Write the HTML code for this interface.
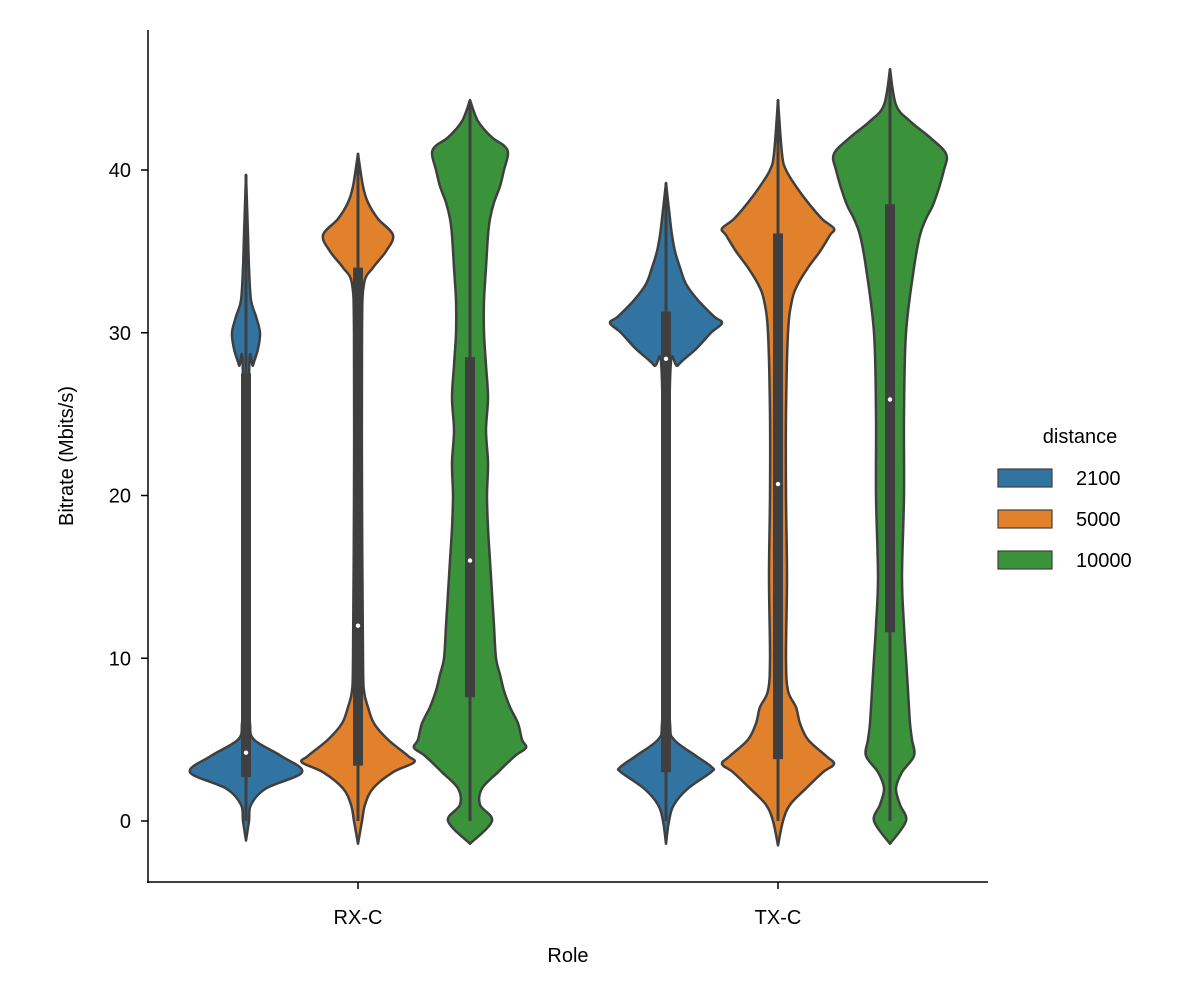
<!DOCTYPE html>
<html><head><meta charset="utf-8">
<style>
body{margin:0;background:#fff;}
svg text{font-family:"Liberation Sans",sans-serif;fill:#000;}
</style></head>
<body>
<svg id="chart" width="1188" height="1000" xmlns="http://www.w3.org/2000/svg">
<g id="plot"></g>
<g id="axes"></g>
<g id="legend"></g>
</svg>
<script>
const roles = ["RX-C", "TX-C"];
const distances = ["2100", "5000", "10000"];
const colors = ["#3274a1", "#e1812c", "#3a923a"];
const yTicks = [0, 10, 20, 30, 40];
// density profiles: [value, relative half-width (0..56)]
const densRX2100 = [[-1.2,0],[0,3],[1,5],[2,20],[3,56],[4,35],[5,8],[6,4],[8,3],[27,3],[28,7],[29,12],[30,14],[31,10],[32,5],[34,3],[36,2],[39.7,0]];
const densRX5000 = [[-1.4,0],[0,4],[1,7],[2,15],[3,35],[3.6,56],[4,50],[5,30],[6,16],[7,10],[8,6],[10,5],[20,4],[30,4],[33,6],[34,15],[35,28],[36,35],[37,20],[38,10],[39,5],[41,0]];
const densRX10000 = [[-1.4,0],[0,22],[1,10],[2,12],[3,28],[4,45],[4.5,56],[5,52],[6,48],[7,40],[8,34],[9,30],[10,26],[12,24],[14,22],[16,20],[18,18],[20,17],[22,18],[24,16],[26,18],[28,16],[30,14],[32,14],[34,16],[36,18],[37,20],[38,24],[39,30],[40,34],[41,38],[41.5,34],[42,22],[43,8],[44.3,0]];
const densTX2100 = [[-1.4,0],[0,3],[1,8],[2,22],[3,45],[3.3,46],[4,30],[5,8],[6,4],[10,3],[27,4],[28,12],[29,30],[30,45],[30.6,56],[31,48],[32,32],[33,20],[34,14],[35,9],[36,6],[37,4],[39.2,0]];
const densTX5000 = [[-1.5,0],[0,5],[1,12],[2,28],[3,45],[3.5,56],[4,48],[5,30],[6,22],[7,18],[8,10],[10,8],[15,9],[20,8],[25,8],[30,10],[32,14],[33,20],[34,30],[35,42],[36,52],[36.4,56],[37,44],[38,30],[39,18],[40,8],[41,4],[44.3,0]];
const densTX10000 = [[-1.4,0],[0,16],[1,10],[2,6],[3,12],[4,24],[5,22],[6,20],[8,18],[10,16],[12,14],[15,12],[20,14],[25,14],[30,16],[34,24],[36,30],[37,36],[38,44],[40,54],[41,56],[42,40],[43,20],[44,6],[46.2,0]];
const dens = [[densRX2100, densRX5000, densRX10000],[densTX2100, densTX5000, densTX10000]];
const q1 = [[2.7, 3.4, 7.6],[3.0, 3.8, 11.6]];
const q3 = [[27.5, 34, 28.5],[31.3, 36.1, 37.9]];
const medians = [[4.2, 12, 16],[28.4, 20.7, 25.9]];
const wlo = [[0, 0, 0],[0, 0, 0]];
const whi = [[39.7, 41, 44.3],[39.2, 44.3, 46.2]];

const NS = "http://www.w3.org/2000/svg";
const y = v => 821 - v * 16.275;
const xCat = i => 358 + i * 420;
const xOff = j => (j - 1) * 112;
function mk(tag, attrs, parent){const e=document.createElementNS(NS,tag);for(const k in attrs)e.setAttribute(k,attrs[k]);parent.appendChild(e);return e;}
function smooth(pts){ // catmull-rom to cubic bezier
  let d = "";
  for(let k=0;k<pts.length-1;k++){
    const p0=pts[Math.max(k-1,0)],p1=pts[k],p2=pts[k+1],p3=pts[Math.min(k+2,pts.length-1)];
    const c1=[p1[0]+(p2[0]-p0[0])/6,p1[1]+(p2[1]-p0[1])/6];
    const c2=[p2[0]-(p3[0]-p1[0])/6,p2[1]-(p3[1]-p1[1])/6];
    d += ` C${c1[0]},${c1[1]} ${c2[0]},${c2[1]} ${p2[0]},${p2[1]}`;
  }
  return d;
}
const plot = document.getElementById("plot");
roles.forEach((r,i)=>{
  distances.forEach((d,j)=>{
    const cx = xCat(i)+xOff(j);
    const pts = dens[i][j];
    const right = pts.map(q=>[cx+q[1],y(q[0])]);
    const left = pts.slice().reverse().map(q=>[cx-q[1],y(q[0])]);
    const path = `M${right[0][0]},${right[0][1]}`+smooth(right)+` L${left[0][0]},${left[0][1]}`+smooth(left)+" Z";
    const v = mk("path",{d:path,fill:colors[j],stroke:"#3f3f3f","stroke-width":2.5,"stroke-linejoin":"round"},plot);
    
    
    const w = mk("line",{x1:cx,x2:cx,y1:y(wlo[i][j]),y2:y(whi[i][j]),stroke:"#3f3f3f","stroke-width":3},plot);
    
    
    const b = mk("rect",{x:cx-5,y:y(q3[i][j]),width:10,height:y(q1[i][j])-y(q3[i][j]),fill:"#3f3f3f"},plot);
    
    
    const m = mk("circle",{cx:cx,cy:y(medians[i][j]),r:2.2,fill:"#fff"},plot);
    
    
  });
});
const axes = document.getElementById("axes");
mk("line",{x1:148,x2:148,y1:30,y2:883,stroke:"#000","stroke-width":1.5},axes);
mk("line",{x1:147,x2:988,y1:882,y2:882,stroke:"#000","stroke-width":1.5},axes);
yTicks.forEach(t=>{
  const tk = mk("line",{x1:141,x2:148,y1:y(t),y2:y(t),stroke:"#000","stroke-width":1.5},axes);
  
  const tl = mk("text",{x:131,y:y(t)+7,"text-anchor":"end","font-size":20},axes);
  tl.textContent = t;
  
  
});
roles.forEach((r,i)=>{
  mk("line",{x1:xCat(i),x2:xCat(i),y1:882,y2:889,stroke:"#000","stroke-width":1.5},axes);
  const tl = mk("text",{x:xCat(i),y:924,"text-anchor":"middle","font-size":20},axes);
  tl.textContent = r;
  
  
});
const xt = mk("text",{x:568,y:962,"text-anchor":"middle","font-size":20},axes);
xt.textContent="Role";


const yt = mk("text",{x:0,y:0,"text-anchor":"middle","font-size":20,transform:"translate(73,456) rotate(-90)"},axes);
yt.textContent="Bitrate (Mbits/s)";


const lg = document.getElementById("legend");
const lt = mk("text",{x:1080,y:443,"text-anchor":"middle","font-size":20},lg);
lt.textContent="distance";


distances.forEach((d,j)=>{
  const yy = 469 + j*41;
  const r = mk("rect",{x:998,y:yy,width:54,height:18,fill:colors[j],stroke:"#3f3f3f","stroke-width":1.2},lg);
  
  
  const t = mk("text",{x:1076,y:yy+16,"font-size":20},lg);
  t.textContent=d;
  
  
});
</script>
</body></html>
